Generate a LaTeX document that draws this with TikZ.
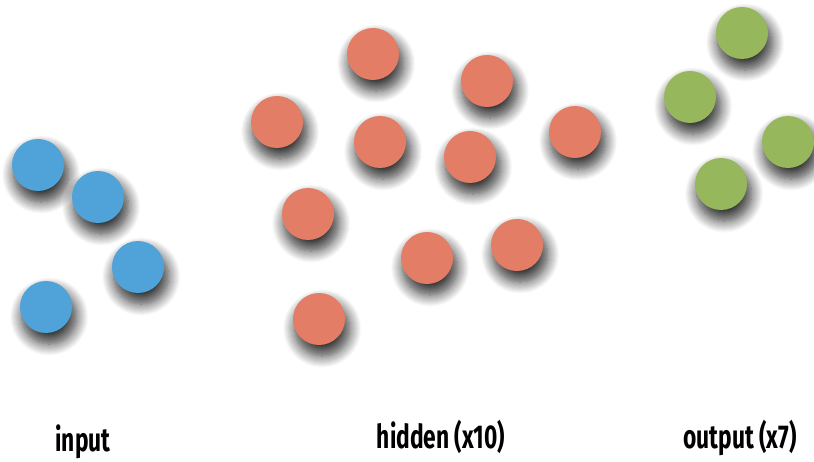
\documentclass[tikz,border=0pt]{standalone}
\usepackage{fontspec}
\newfontfamily\labelfont[FakeStretch=0.69]{Fira Sans}
\usetikzlibrary{shadows.blur}
\definecolor{nnBlue}{HTML}{4FA3D8}
\definecolor{nnRed}{HTML}{E37D66}
\definecolor{nnGreen}{HTML}{96B75C}
\tikzset{
  % One neuron: flat disc with a soft drop shadow.
  nn/unit/.style={
    circle, minimum size=52pt, inner sep=0pt, draw=none,
    blur shadow={shadow xshift=3pt, shadow yshift=-9pt, shadow scale=1.06,
                 shadow blur radius=11pt, shadow blur steps=12, shadow opacity=80}
  },
  nn/in/.style={nn/unit, fill=nnBlue},
  nn/hid/.style={nn/unit, fill=nnRed},
  nn/out/.style={nn/unit, fill=nnGreen},
  % Layer caption under each cluster.
  nn/caption/.style={
    font=\labelfont\bfseries\fontsize{33}{33}\selectfont, anchor=base, inner sep=0pt
  },
}

\begin{document}
\begin{tikzpicture}[x=1pt, y=-1pt]
  \useasboundingbox (0,0) rectangle (814,462);

  % input layer
  \foreach \p [count=\i] in {(38,165),(98,197),(138,267),(46,307)}
    {\node[nn/in] (in\i) at \p {};}

  % hidden layer
  \foreach \p [count=\i] in {(373,54),(487,81),(277,122),(380,142),(470,157),
                             (575,132),(308,214),(427,258),(517,245),(319,319)}
    {\node[nn/hid] (hid\i) at \p {};}

  % output layer
  \foreach \p [count=\i] in {(742,33),(690,97),(788,142),(721,184)}
    {\node[nn/out] (out\i) at \p {};}

  \node[nn/caption] (capIn)  at (83,451)  {input};
  \node[nn/caption] (capHid) at (441,448) {hidden (x10)};
  \node[nn/caption] (capOut) at (740,448) {output (x7)};
\end{tikzpicture}
\end{document}
